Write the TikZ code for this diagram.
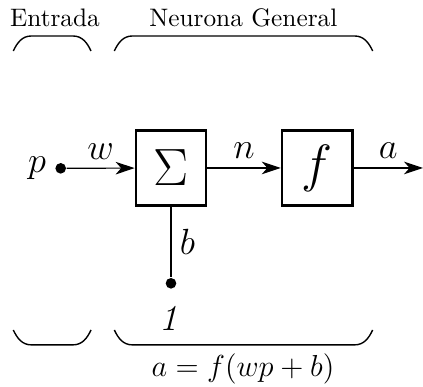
\documentclass[tikz,border=0pt]{standalone}
\usepackage{amsmath,amssymb}
\usepackage{xcolor}
\usepackage{tikz}
\usetikzlibrary{arrows.meta,positioning,calc}

\begin{document}
\begin{tikzpicture}[
  caja/.style={draw,line width=0.9pt,minimum width=0.98cm,minimum height=1.04cm,inner sep=0pt},
  punto/.style={circle,fill,inner sep=0pt,minimum size=4.2pt},
  flecha/.style={-{Stealth[length=7.5pt,width=5pt,inset=2.2pt]},line width=0.45pt},
  llave/.style={line width=0.55pt}]
\useasboundingbox (0,0) rectangle (5.875,-5.375);
\node[punto,label={[label distance=0pt]left:{\Large$p$}}] (p) at (0.843,-2.338) {};
\node[caja] (suma) at (2.375,-2.333) {\huge$\Sigma$};
\node[caja] (fun) at (4.405,-2.333) {\huge$f$};
\coordinate (salida) at (5.875,-2.333);
\node[punto] (uno) at (2.375,-3.935) {};
\node[below=0.12cm of uno,xshift=-0.03cm] (unolab) {\Large\textit{1}};
\draw[flecha] (p) -- node[above] (w) {\Large$w$} (suma);
\draw[flecha] (suma) -- node[above] (n) {\Large$n$} (fun);
\draw[flecha] (fun) -- node[above] (a) {\Large$a$} (salida);
\draw[line width=0.45pt] (suma) -- node[right] (b) {\Large$b$} (uno);
\foreach \xa/\xb in {0.185/1.264, 1.588/5.176}{
  \draw[llave] (\xa,-0.708) to[out=65,in=180] (\xa+0.25,-0.5) -- (\xb-0.25,-0.5) to[out=0,in=115] (\xb,-0.708);
  \draw[llave] (\xa,-4.583) to[out=-65,in=180] (\xa+0.25,-4.79) -- (\xb-0.25,-4.79) to[out=0,in=-115] (\xb,-4.583);
}
\node[above] (entrada) at (0.764,-0.5) {Entrada};
\node[above] (neurona) at (3.38,-0.5) {Neurona General};
\node[below] (formula) at (3.375,-4.79) {\large$a=f(wp+b)$};
\end{tikzpicture}
\end{document}
